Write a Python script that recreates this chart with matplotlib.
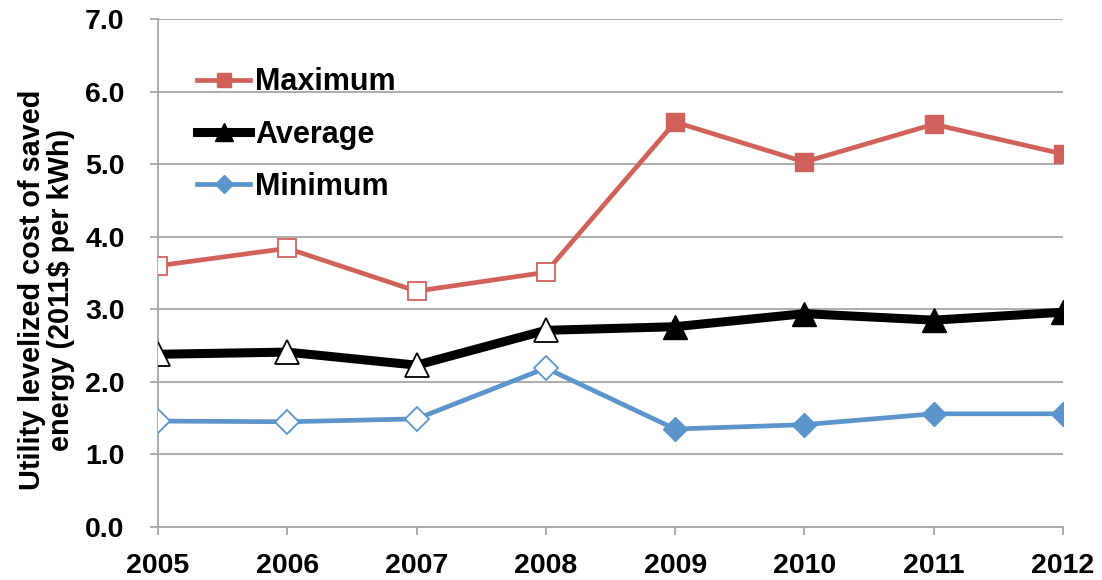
import matplotlib
matplotlib.use("Agg")
import matplotlib.pyplot as plt

years = [2005, 2006, 2007, 2008, 2009, 2010, 2011, 2012]
maximum = [3.60, 3.84, 3.25, 3.51, 5.58, 5.03, 5.55, 5.14]
average = [2.38, 2.41, 2.23, 2.71, 2.76, 2.94, 2.85, 2.96]
minimum = [1.46, 1.45, 1.49, 2.19, 1.35, 1.41, 1.56, 1.56]
yticks = [0, 1, 2, 3, 4, 5, 6, 7]
n_hollow = 4  # first four years drawn with hollow markers

plt.rcParams['font.family'] = ['Liberation Sans', 'DejaVu Sans']

fig = plt.figure(figsize=(11.02, 5.80), dpi=100)
ax = fig.add_axes([0.1434, 0.0914, 0.9646 - 0.1434, 0.9672 - 0.0914])

red = '#D0625B'
blue = '#5B95CB'
black = '#000000'

series = [
    ('Maximum', maximum, red, 's', 13.5, 3.4),
    ('Average', average, black, '^', 17, 6.5),
    ('Minimum', minimum, blue, 'D', 12, 3.4),
]
handles = []
for name, vals, col, mk, ms, lw in series:
    h, = ax.plot(years, vals, color=col, lw=lw, marker=mk, ms=ms,
                 markerfacecolor=col, markeredgecolor=col,
                 markevery=list(range(n_hollow, len(years))), label=name,
                 zorder=3, solid_joinstyle='round')
    ax.plot(years[:n_hollow], vals[:n_hollow], ls='none', marker=mk, ms=ms,
            markerfacecolor='white', markeredgecolor=col, markeredgewidth=1.3,
            zorder=4)
    handles.append(h)

ax.set_xlim(2005, 2012)
ax.set_ylim(0, 7)
ax.set_xticks(years)
ax.set_xticklabels([str(y) for y in years])
ax.set_yticks(yticks)
ax.set_yticklabels([f"{v:.1f}" for v in yticks])

ax.grid(axis='y', color='#A6A6A6', lw=1.3)
ax.set_axisbelow(True)
for s in ['top', 'right']:
    ax.spines[s].set_visible(False)
for s in ['left', 'bottom']:
    ax.spines[s].set_color('#A6A6A6')
    ax.spines[s].set_linewidth(1.3)
ax.tick_params(axis='both', colors='#A6A6A6', width=1.3, length=6,
               labelcolor='black', labelsize=20.5)
ax.tick_params(axis='x', pad=13)
ax.tick_params(axis='y', pad=18)
for lab in ax.get_xticklabels() + ax.get_yticklabels():
    lab.set_fontweight('bold')

ax.set_ylabel('Utility levelized cost of saved\nenergy (2011$ per kWh)',
              fontsize=20.8, fontweight='bold', linespacing=1.07)
ax.yaxis.set_label_coords(-0.0917, 0.467)

leg = ax.legend(handles=handles, loc='upper left', bbox_to_anchor=(0.030, 0.929),
                frameon=False, prop={'size': 22, 'weight': 'bold'},
                handlelength=1.73, handletextpad=0.16, labelspacing=0.73,
                borderaxespad=0, markerscale=0.75)
fig.savefig('out.png', dpi=100)
